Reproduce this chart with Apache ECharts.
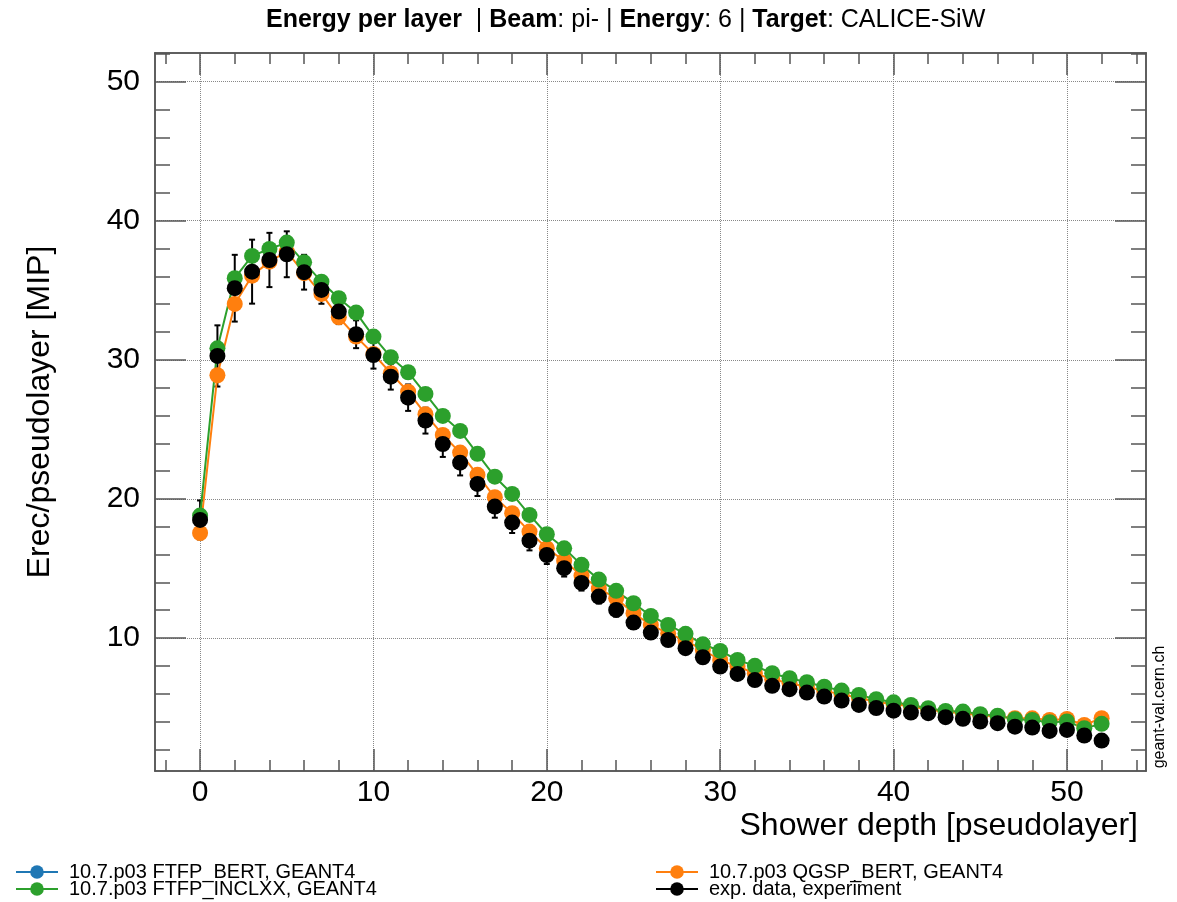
<!DOCTYPE html>
<html>
<head>
<meta charset="utf-8">
<script src="https://cdn.jsdelivr.net/npm/echarts@6/dist/echarts.min.js"></script>
<style>
html,body{margin:0;padding:0;background:#fff;}
#c{width:1177px;height:902px;}
</style>
</head>
<body>
<div id="c"></div>
<script>
const layers = [0,1,2,3,4,5,6,7,8,9,10,11,12,13,14,15,16,17,18,19,20,21,22,23,24,25,26,27,28,29,30,31,32,33,34,35,36,37,38,39,40,41,42,43,44,45,46,47,48,49,50,51,52];

const ftfpBert = []; // no visible points for this model

const qgspBert = [17.55,28.89,34.02,36.05,37.06,37.78,36.23,34.74,33.06,31.67,30.42,29.04,27.71,26.09,24.6,23.33,21.73,20.12,18.97,17.65,16.45,15.56,14.49,13.55,12.86,11.78,10.94,10.34,9.81,9.14,8.42,7.95,7.47,7.04,6.75,6.5,6.2,5.95,5.7,5.4,5.26,5.1,4.85,4.7,4.6,4.45,4.35,4.24,4.23,4.11,4.18,3.75,4.24];

const ftfpInclxx = [18.8,30.83,35.87,37.47,37.97,38.43,37.01,35.62,34.43,33.4,31.67,30.19,29.11,27.55,25.97,24.89,23.24,21.6,20.36,18.85,17.46,16.45,15.26,14.2,13.39,12.5,11.59,10.94,10.3,9.55,9.07,8.42,8.0,7.47,7.11,6.82,6.5,6.22,5.91,5.6,5.38,5.19,4.95,4.76,4.71,4.52,4.42,4.16,4.11,3.95,4.0,3.52,3.83];

const expData = [18.49,30.28,35.15,36.34,37.18,37.59,36.3,35.03,33.47,31.84,30.35,28.79,27.28,25.63,23.95,22.61,21.08,19.45,18.3,17.0,15.97,15.02,13.96,12.98,12.02,11.11,10.39,9.86,9.27,8.62,7.95,7.42,6.98,6.56,6.32,6.08,5.79,5.5,5.19,4.97,4.78,4.64,4.6,4.31,4.19,4.0,3.88,3.63,3.56,3.32,3.39,2.99,2.63];

const expErr = [1.4,2.2,2.4,2.3,1.95,1.65,1.25,1.0,0.9,1.0,0.98,0.93,0.95,0.93,0.93,0.92,0.87,0.8,0.75,0.7,0.65,0.6,0.55,0.5,0.48,0.45,0.42,0.4,0.38,0.36,0.34,0.32,0.3,0.29,0.28,0.27,0.26,0.25,0.24,0.23,0.22,0.21,0.2,0.2,0.19,0.18,0.18,0.17,0.17,0.16,0.16,0.15,0.14];

const xMajorTicks = [0,10,20,30,40,50];
const xMinorTicks = [-2,0,2,4,6,8,10,12,14,16,18,20,22,24,26,28,30,32,34,36,38,40,42,44,46,48,50,52,54];
const yMajorTicks = [10,20,30,40,50];
const yMinorTicks = [2,4,6,8,10,12,14,16,18,20,22,24,26,28,30,32,34,36,38,40,42,44,46,48,50,52];

const names = ['10.7.p03 FTFP_BERT, GEANT4','10.7.p03 QGSP_BERT, GEANT4','10.7.p03 FTFP_INCLXX, GEANT4','exp. data, experiment'];

const X_MIN = -2.6, X_MAX = 54.56, Y_MIN = 0.44, Y_MAX = 52.06;
const FONT = 'Liberation Sans, Arial, Helvetica, sans-serif';
const AX = '#555';

function pairs(vals){ return vals.map((v,i)=>[layers[i], v]); }

function xAxisDef(pos, ticks, len, labels, split){
  return {
    type:'value', position:pos, min:X_MIN, max:X_MAX,
    axisLine:{show:true, onZero:false, lineStyle:{color:AX, width:1.5}},
    axisTick:{show:true, inside:true, length:len, customValues:ticks, lineStyle:{color:AX, width:1.5}},
    axisLabel:{show:labels, customValues:ticks, fontSize:30, fontFamily:FONT, color:'#000', margin:7},
    splitLine:{show:split, lineStyle:{type:'dotted', color:'#888', width:1}},
    minorTick:{show:false}
  };
}
function yAxisDef(pos, ticks, len, labels, split){
  return {
    type:'value', position:pos, min:Y_MIN, max:Y_MAX,
    axisLine:{show:true, onZero:false, lineStyle:{color:AX, width:1.5}},
    axisTick:{show:true, inside:true, length:len, customValues:ticks, lineStyle:{color:AX, width:1.5}},
    axisLabel:{show:labels, customValues:ticks, fontSize:30, fontFamily:FONT, color:'#000', margin:15},
    splitLine:{show:split, lineStyle:{type:'dotted', color:'#888', width:1}},
    minorTick:{show:false}
  };
}

const chart = echarts.init(document.getElementById('c'), null, {renderer:'canvas'});

const legendBase = {
  orient:'horizontal', padding:0, itemWidth:42, itemHeight:17, itemGap:0,
  textStyle:{fontSize:20, fontFamily:FONT, color:'#000', padding:[0,0,0,6]},
  selectedMode:false
};

const option = {
  animation:false,
  backgroundColor:'#fff',
  title:{
    left:261, top:3,
    text:'{b|Energy per layer}{n|  | }{b|Beam}{n|: pi- | }{b|Energy}{n|: 6 | }{b|Target}{n|: CALICE-SiW}',
    textStyle:{
      rich:{
        b:{fontSize:25, fontWeight:'bold', fontFamily:FONT, color:'#000'},
        n:{fontSize:25, fontWeight:'normal', fontFamily:FONT, color:'#000'}
      }
    }
  },
  grid:{left:155, right:31, top:53, bottom:131, containLabel:false},
  legend:[
    Object.assign({}, legendBase, {left:15, top:862, data:[names[0]]}),
    Object.assign({}, legendBase, {left:15, top:879, data:[names[2]]}),
    Object.assign({}, legendBase, {left:655, top:862, data:[names[1]]}),
    Object.assign({}, legendBase, {left:655, top:879, data:[names[3]], lineStyle:{opacity:1, width:2, color:'#000'}})
  ],
  xAxis:[
    xAxisDef('bottom', xMajorTicks, 22, true, true),
    xAxisDef('bottom', xMinorTicks, 11, false, false),
    xAxisDef('top', xMajorTicks, 22, false, false),
    xAxisDef('top', xMinorTicks, 11, false, false)
  ],
  yAxis:[
    yAxisDef('left', yMajorTicks, 31, true, true),
    yAxisDef('left', yMinorTicks, 15, false, false),
    yAxisDef('right', yMajorTicks, 31, false, false),
    yAxisDef('right', yMinorTicks, 15, false, false)
  ],
  graphic:[
    {type:'text', x:1138, y:826, style:{text:'Shower depth [pseudolayer]', font:'32px '+FONT, fill:'#000', align:'right', verticalAlign:'middle'}},
    {type:'text', x:40, y:412, rotation:Math.PI/2, style:{text:'Erec/pseudolayer [MIP]', font:'32px '+FONT, fill:'#000', align:'center', verticalAlign:'middle'}},
    {type:'text', x:1160, y:707, rotation:Math.PI/2, style:{text:'geant-val.cern.ch', font:'16px '+FONT, fill:'#000', align:'center', verticalAlign:'middle'}}
  ],
  series:[
    {
      name:names[0], type:'line', data:pairs(ftfpBert), symbol:'circle', symbolSize:16,
      itemStyle:{color:'#1f77b4'}, lineStyle:{color:'#1f77b4', width:2}
    },
    {
      name:names[1], type:'line', data:pairs(qgspBert), symbol:'circle', symbolSize:16, showAllSymbol:true,
      itemStyle:{color:'#ff7f0e'}, lineStyle:{color:'#ff7f0e', width:2}
    },
    {
      name:names[2], type:'line', data:pairs(ftfpInclxx), symbol:'circle', symbolSize:16, showAllSymbol:true,
      itemStyle:{color:'#2ca02c'}, lineStyle:{color:'#2ca02c', width:2}
    },
    {
      name:'errors', type:'custom',
      data: expData.map((v,i)=>[layers[i], v-expErr[i], v+expErr[i]]),
      renderItem:function(params, api){
        const lo = api.coord([api.value(0), api.value(1)]);
        const hi = api.coord([api.value(0), api.value(2)]);
        const cw = 3;
        const st = {stroke:'#000', lineWidth:2};
        return {type:'group', children:[
          {type:'line', shape:{x1:lo[0], y1:lo[1], x2:hi[0], y2:hi[1]}, style:st},
          {type:'line', shape:{x1:lo[0]-cw, y1:lo[1], x2:lo[0]+cw, y2:lo[1]}, style:st},
          {type:'line', shape:{x1:hi[0]-cw, y1:hi[1], x2:hi[0]+cw, y2:hi[1]}, style:st}
        ]};
      },
      encode:{x:0, y:[1,2]},
      silent:true
    },
    {
      name:names[3], type:'line', data:pairs(expData), symbol:'circle', symbolSize:16, showAllSymbol:true,
      itemStyle:{color:'#000'}, lineStyle:{color:'#000', width:2, opacity:0}
    }
  ]
};
chart.setOption(option);
</script>
</body>
</html>
